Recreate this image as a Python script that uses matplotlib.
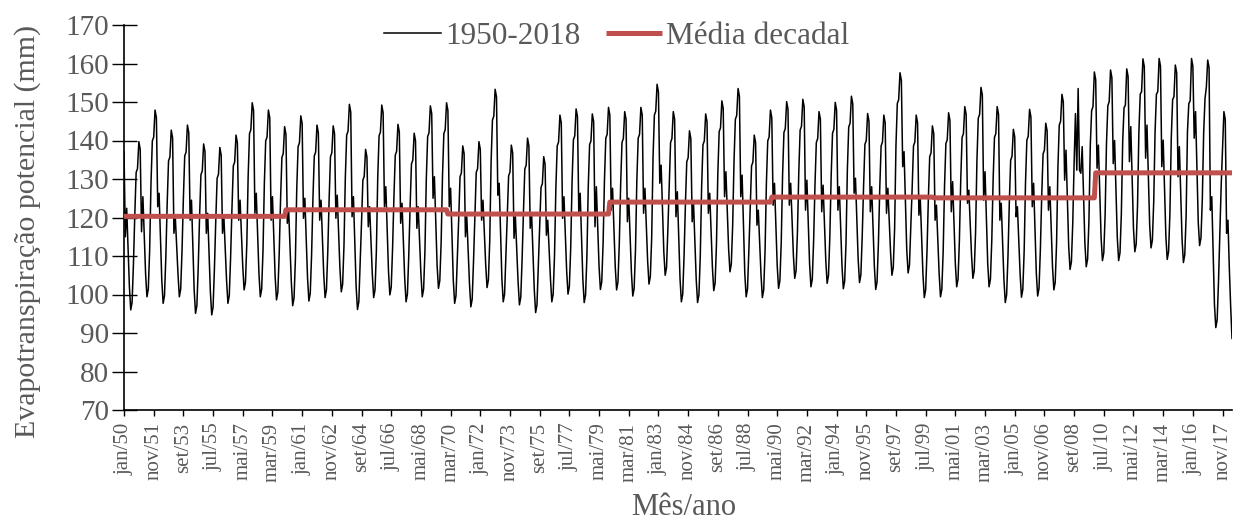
import matplotlib
matplotlib.use('Agg')
from matplotlib import pyplot
import numpy as np

pyplot.rcParams['font.family'] = ['Liberation Serif', 'DejaVu Serif']

# Evapotranspiração potencial mensal (mm), jan a dez
pet_1950s = [
    137.1, 115.0, 122.4, 112.2, 102.0, 96.0, 98.0, 108.0, 120.7, 131.7, 132.7, 139.7,
    137.7, 116.3, 125.4, 115.4, 105.4, 99.4, 101.4, 111.4, 128.9, 139.9, 140.9, 147.9,
    145.9, 122.8, 126.3, 115.0, 103.7, 97.7, 99.7, 109.7, 123.7, 134.7, 135.7, 142.7,
    140.7, 115.9, 120.2, 112.8, 105.4, 99.4, 101.4, 111.4, 125.0, 136.0, 137.0, 144.0,
    142.0, 119.3, 124.5, 112.8, 101.1, 95.1, 97.1, 107.1, 120.1, 131.1, 132.1, 139.1,
    137.1, 115.9, 121.1, 110.9, 100.7, 94.7, 96.7, 106.7, 119.2, 130.2, 131.2, 138.2,
    136.2, 115.9, 120.2, 112.0, 103.7, 97.7, 99.7, 109.7, 122.4, 133.4, 134.4, 141.4,
    139.4, 119.3, 124.5, 115.9, 107.2, 101.2, 103.2, 113.2, 130.8, 141.8, 142.8, 149.8,
    147.8, 121.1, 126.3, 115.9, 105.4, 99.4, 101.4, 111.4, 128.9, 139.9, 140.9, 147.9,
    145.9, 119.3, 125.4, 115.0, 104.6, 98.6, 100.6, 110.6, 124.6, 135.6, 136.6, 143.6,
]
pet_1960s = [
    141.6, 118.5, 121.9, 112.5, 103.1, 97.1, 99.1, 109.1, 127.4, 138.4, 139.4, 146.4,
    144.4, 119.8, 125.0, 114.7, 104.3, 98.3, 100.3, 110.3, 125.0, 136.0, 137.0, 144.0,
    142.0, 119.3, 124.5, 114.9, 105.2, 99.2, 101.2, 111.2, 124.8, 135.8, 136.8, 143.8,
    141.8, 119.8, 125.8, 116.3, 106.7, 100.7, 102.7, 112.7, 130.4, 141.4, 142.4, 149.4,
    147.4, 120.2, 125.4, 113.8, 102.1, 96.1, 98.1, 108.1, 118.7, 129.7, 130.7, 137.7,
    135.7, 117.6, 122.8, 114.0, 105.2, 99.2, 101.2, 111.2, 130.2, 141.2, 142.2, 149.2,
    147.2, 122.8, 128.0, 117.0, 105.9, 99.9, 101.9, 111.9, 125.2, 136.2, 137.2, 144.2,
    142.2, 118.5, 123.7, 113.9, 104.1, 98.1, 100.1, 110.1, 122.9, 133.9, 134.9, 141.9,
    139.9, 117.2, 122.8, 114.1, 105.4, 99.4, 101.4, 111.4, 130.0, 141.0, 142.0, 149.0,
    147.0, 125.0, 130.6, 119.1, 107.6, 101.6, 103.6, 113.6, 130.8, 141.8, 142.8, 149.8,
]
pet_1970s = [
    147.8, 122.8, 127.6, 115.7, 103.7, 97.7, 99.7, 109.7, 119.6, 130.6, 131.6, 138.6,
    136.6, 115.0, 120.2, 111.5, 102.8, 96.8, 98.8, 108.8, 120.7, 131.7, 132.7, 139.7,
    137.7, 119.3, 124.5, 116.2, 107.8, 101.8, 103.8, 113.8, 134.3, 145.3, 146.3, 153.3,
    151.3, 125.8, 128.9, 116.5, 104.1, 98.1, 100.1, 110.1, 119.8, 130.8, 131.8, 138.8,
    136.8, 114.6, 120.2, 111.8, 103.3, 97.3, 99.3, 109.3, 121.6, 132.6, 133.6, 140.6,
    138.6, 117.2, 121.1, 111.2, 101.3, 95.3, 97.3, 107.3, 116.8, 127.8, 128.8, 135.8,
    133.8, 115.4, 119.3, 111.7, 104.1, 98.1, 100.1, 110.1, 127.6, 138.6, 139.6, 146.6,
    144.6, 119.8, 125.4, 115.8, 106.1, 100.1, 102.1, 112.1, 129.2, 140.2, 141.2, 148.2,
    146.2, 121.1, 126.3, 115.1, 103.9, 97.9, 99.9, 109.9, 127.9, 138.9, 139.9, 146.9,
    144.9, 117.6, 128.0, 117.7, 107.3, 101.3, 103.3, 113.3, 129.6, 140.6, 141.6, 148.6,
]
pet_1980s = [
    146.6, 121.9, 127.6, 117.4, 107.2, 101.2, 103.2, 113.2, 128.5, 139.5, 140.5, 147.5,
    145.5, 118.9, 125.0, 115.3, 105.6, 99.6, 101.6, 111.6, 129.6, 140.6, 141.6, 148.6,
    146.6, 121.1, 127.6, 118.2, 108.7, 102.7, 104.7, 114.7, 135.6, 146.6, 147.6, 154.6,
    152.6, 128.9, 133.6, 122.3, 111.0, 105.0, 107.0, 117.0, 128.5, 139.5, 140.5, 147.5,
    145.5, 120.2, 126.7, 115.4, 104.1, 98.1, 100.1, 110.1, 123.5, 134.5, 135.5, 142.5,
    140.5, 118.9, 123.7, 113.8, 103.9, 97.9, 99.9, 109.9, 127.9, 138.9, 139.9, 146.9,
    144.9, 121.1, 126.3, 116.7, 107.0, 101.0, 103.0, 113.0, 131.3, 142.3, 143.3, 150.3,
    148.3, 125.4, 131.9, 121.9, 111.9, 105.9, 107.9, 117.9, 134.5, 145.5, 146.5, 153.5,
    151.5, 125.4, 131.0, 118.2, 105.4, 99.4, 101.4, 111.4, 122.4, 133.4, 134.4, 141.4,
    139.4, 118.0, 121.9, 113.6, 105.2, 99.2, 101.2, 111.2, 128.9, 139.9, 140.9, 147.9,
]
pet_1990s = [
    145.9, 123.2, 128.9, 118.3, 107.6, 101.6, 103.6, 113.6, 131.1, 142.1, 143.1, 150.1,
    148.1, 123.2, 128.9, 119.6, 110.2, 104.2, 106.2, 116.2, 131.7, 142.7, 143.7, 150.7,
    148.7, 121.9, 129.7, 118.9, 108.0, 102.0, 104.0, 114.0, 128.5, 139.5, 140.5, 147.5,
    145.5, 121.5, 128.4, 118.7, 108.9, 102.9, 104.9, 114.9, 130.9, 141.9, 142.9, 149.9,
    147.9, 121.9, 128.0, 117.8, 107.5, 101.5, 103.5, 113.5, 132.5, 143.5, 144.5, 151.5,
    149.5, 126.3, 130.2, 119.7, 109.1, 103.1, 105.1, 115.1, 128.0, 139.0, 140.0, 147.0,
    145.0, 121.5, 128.0, 117.7, 107.3, 101.3, 103.3, 113.3, 127.6, 138.6, 139.6, 146.6,
    144.6, 121.1, 127.6, 119.3, 111.0, 105.0, 107.0, 117.0, 138.6, 149.6, 150.6, 157.6,
    155.6, 133.2, 137.1, 124.4, 111.6, 105.6, 107.6, 117.6, 127.6, 138.6, 139.6, 146.6,
    144.6, 120.6, 125.0, 115.1, 105.2, 99.2, 101.2, 111.2, 124.8, 135.8, 136.8, 143.8,
]
pet_2000s = [
    141.8, 119.3, 123.2, 114.3, 105.4, 99.4, 101.4, 111.4, 128.2, 139.2, 140.2, 147.2,
    145.2, 121.5, 129.3, 118.7, 108.0, 102.0, 104.0, 114.0, 129.8, 140.8, 141.8, 148.8,
    146.8, 123.7, 127.1, 118.7, 110.2, 104.2, 106.2, 116.2, 134.8, 145.8, 146.8, 153.8,
    151.8, 124.5, 131.9, 120.0, 108.0, 102.0, 104.0, 114.0, 129.8, 140.8, 141.8, 148.8,
    146.8, 119.3, 123.7, 113.8, 103.9, 97.9, 99.9, 109.9, 123.9, 134.9, 135.9, 142.9,
    140.9, 120.2, 122.8, 114.1, 105.3, 99.3, 101.3, 111.3, 129.1, 140.1, 141.1, 148.1,
    146.1, 122.8, 128.9, 117.3, 105.6, 99.6, 101.6, 111.6, 125.5, 136.5, 137.5, 144.5,
    142.5, 121.9, 128.0, 117.6, 107.2, 101.2, 103.2, 113.2, 133.0, 144.0, 145.0, 152.0,
    150.0, 129.7, 137.5, 125.0, 112.5, 106.5, 108.5, 118.5, 134.0, 147.0, 132.3, 153.5,
    132.3, 131.5, 138.4, 125.8, 113.2, 107.2, 109.2, 119.2, 138.8, 147.8, 148.8, 157.8,
]
pet_2010s = [
    155.8, 132.8, 138.8, 126.8, 114.8, 108.8, 110.8, 120.8, 139.3, 149.0, 150.1, 158.3,
    156.3, 134.0, 140.0, 127.4, 114.8, 108.8, 110.8, 120.8, 139.6, 148.5, 149.2, 158.6,
    156.6, 134.5, 143.6, 130.4, 117.1, 111.1, 113.1, 123.1, 142.2, 152.0, 152.7, 161.2,
    159.2, 135.4, 144.0, 131.1, 118.1, 112.1, 114.1, 124.1, 142.3, 152.0, 152.7, 161.3,
    159.3, 133.2, 140.1, 127.6, 115.1, 109.1, 111.1, 121.1, 140.6, 150.6, 151.4, 159.6,
    157.6, 130.6, 138.4, 126.4, 114.3, 108.3, 110.3, 120.3, 142.3, 149.6, 150.3, 161.3,
    159.3, 140.6, 147.5, 133.1, 118.7, 112.7, 114.7, 124.7, 141.9, 150.9, 153.9, 160.9,
    158.9, 121.9, 125.4, 111.4, 97.4, 91.4, 93.4, 103.4, 116.0, 128.5, 138.4, 147.5,
    145.5, 115.9, 119.3, 107.0, 97.0, 88.6,
]

# média de cada década (1950-59, ..., 2010-18)
media_decadal = [120.3, 122.0, 120.9, 124.0, 125.3, 125.1, 131.6]

meses = ['jan', 'fev', 'mar', 'abr', 'mai', 'jun', 'jul', 'ago', 'set', 'out', 'nov', 'dez']
ano_inicio = 1950
passo_rotulo = 22

decadas = [pet_1950s, pet_1960s, pet_1970s, pet_1980s, pet_1990s, pet_2000s, pet_2010s]
serie = np.concatenate(decadas)
n = len(serie)
media = np.repeat(media_decadal, [len(d) for d in decadas])
x = np.arange(n)

cinza = '#595959'

fig = pyplot.figure(figsize=(12.34, 5.22), dpi=100)
ax = fig.add_axes([124 / 1234, 112 / 522, 1108 / 1234, 385 / 522])

ax.plot(x, serie, color='black', linewidth=1.1, label='1950-2018', zorder=2)
ax.plot(x, media, color='#C0504D', linewidth=3.6, label='Média decadal', zorder=3,
        solid_capstyle='butt')

ax.set_xlim(0, n - 1)
ax.set_ylim(70, 170)
ax.set_yticks(range(70, 171, 10))

pos = list(range(0, n, passo_rotulo))
rotulos = [f'{meses[i % 12]}/{(ano_inicio + i // 12) % 100:02d}' for i in pos]
ax.set_xticks(pos)
ax.set_xticklabels(rotulos, rotation=90, fontsize=15, color=cinza)

ax.tick_params(axis='y', direction='inout', length=18, width=1, labelsize=21,
               labelcolor=cinza, pad=2)
ax.tick_params(axis='x', direction='out', length=4, width=1, pad=5)

for lado in ['top', 'right']:
    ax.spines[lado].set_visible(False)
for lado in ['left', 'bottom']:
    ax.spines[lado].set_linewidth(1.2)
    ax.spines[lado].set_color('black')

ax.set_ylabel('Evapotranspiração potencial (mm)', fontsize=21.5, color=cinza, va='center')
ax.yaxis.set_label_coords(-0.087, 0.463)
ax.set_xlabel('Mês/ano', fontsize=22, color=cinza, va='center')
ax.xaxis.set_label_coords(0.505, -0.252)

fig.legend(loc='center', bbox_to_anchor=(0.5, 0.93), ncol=2, frameon=False,
           fontsize=22.5, handlelength=1.8, handletextpad=0.15, columnspacing=0.8,
           labelcolor=cinza)

fig.savefig('out.png', dpi=100)
